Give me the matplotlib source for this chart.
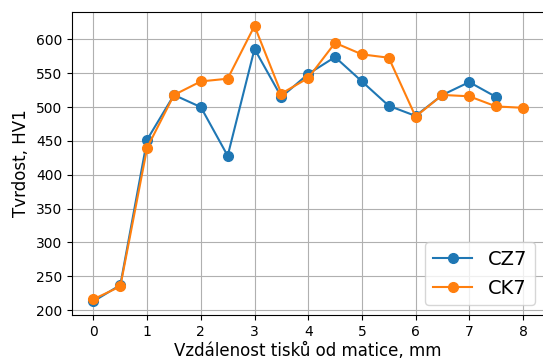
import matplotlib
matplotlib.use('Agg')
import matplotlib.pyplot as plt

vzdalenost_cz7 = [0, 0.5, 1, 1.5, 2, 2.5, 3, 3.5, 4, 4.5, 5, 5.5, 6, 6.5, 7, 7.5]
tvrdost_cz7 = [213, 237, 452, 518, 500, 428, 586, 515, 549, 574, 538, 502, 487, 518, 537, 515]

vzdalenost_ck7 = [0, 0.5, 1, 1.5, 2, 2.5, 3, 3.5, 4, 4.5, 5, 5.5, 6, 6.5, 7, 7.5, 8]
tvrdost_ck7 = [216, 235, 440, 518, 538, 542, 620, 520, 543, 595, 578, 573, 486, 518, 516, 501, 499]

fig = plt.figure(figsize=(5.43, 3.58), dpi=100)
ax = fig.add_axes([0.1326, 0.12, 0.87, 0.846])

ax.plot(vzdalenost_cz7, tvrdost_cz7, 'o-', ms=7, label='CZ7', zorder=3)
ax.plot(vzdalenost_ck7, tvrdost_ck7, 'o-', ms=7, label='CK7', zorder=3)

ax.set_xticks(range(0, 9))
ax.set_xlabel('Vzdálenost tisků od matice, mm', fontsize=12, labelpad=2)
ax.set_ylabel('Tvrdost, HV1', fontsize=12)
ax.grid(True)
ax.legend(loc='lower right', fontsize=14)

fig.savefig('out.png', dpi=100)
